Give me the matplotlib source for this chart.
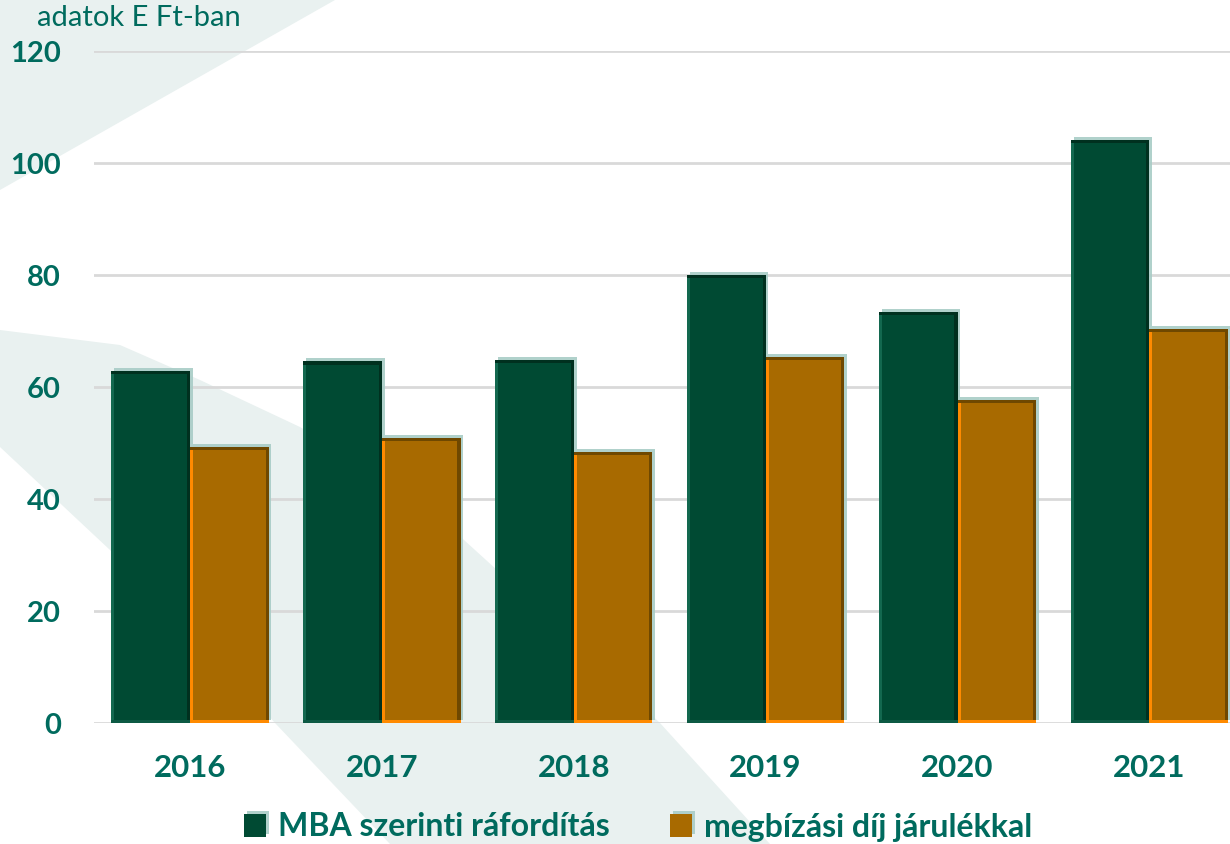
import matplotlib.pyplot as plt
import matplotlib.patheffects as pe
from matplotlib.patches import Rectangle, Polygon
import numpy as np

years = ['2016', '2017', '2018', '2019', '2020', '2021']
mba = [62.9, 64.6, 64.8, 80.0, 73.4, 104.1]
megbizasi = [49.3, 50.9, 48.4, 65.4, 57.7, 70.4]
series_names = ['MBA szerinti ráfordítás', 'megbízási díj járulékkal']
yticks = [0, 20, 40, 60, 80, 100, 120]

txt = '#006b5e'
green = '#004a33'
orange = '#a86a00'

plt.rcParams['font.family'] = ['Lato', 'DejaVu Sans']

fig = plt.figure(figsize=(12.3, 8.44), dpi=100)

# background swoosh (decoration)
bg = fig.add_axes([0, 0, 1, 1], zorder=0)
bg.set_xlim(0, 1230)
bg.set_ylim(844, 0)
bg.axis('off')
band_col = '#e9f1f0'
bg.add_patch(Polygon([(0, 0), (335, 0), (0, 190)], closed=True, color=band_col, lw=0))
upper = [(0, 330), (120, 345), (200, 380), (300, 427), (420, 500), (530, 600), (660, 723), (770, 844)]
lower = [(390, 844), (275, 723), (200, 640), (110, 550), (0, 447)]
bg.add_patch(Polygon(upper + lower, closed=True, color=band_col, lw=0))

ax = fig.add_axes([94 / 1230, 1 - 723 / 844, 1 - 94 / 1230, (723 - 51) / 844], zorder=1)
ax.patch.set_alpha(0)

x = np.arange(len(years))
w = 0.41
shadow = [pe.SimplePatchShadow(offset=(2, 2), shadow_rgbFace='#a8ccc6', alpha=0.9), pe.Normal()]
b1 = ax.bar(x - w / 2, mba, w, color=green, zorder=3, label=series_names[0])
b2 = ax.bar(x + w / 2, megbizasi, w, color=orange, zorder=3, label=series_names[1])
for b in list(b1) + list(b2):
    b.set_path_effects(shadow)

# bevel edges
dx, dy = 0.016, 0.6
bevels = [(b1, '#13684f', '#00301f', '#00301f', '#0d5a44'),
          (b2, '#ff8a00', '#6f4800', '#6f4800', '#ff8a00')]
for bars, left_c, top_c, right_c, bot_c in bevels:
    for b in bars:
        bx, bw, bh = b.get_x(), b.get_width(), b.get_height()
        ax.add_patch(Rectangle((bx, 0), dx, bh, color=left_c, lw=0, zorder=4))
        ax.add_patch(Rectangle((bx + bw - dx, 0), dx, bh, color=right_c, lw=0, zorder=4))
        ax.add_patch(Rectangle((bx, bh - dy), bw, dy, color=top_c, lw=0, zorder=5))
        ax.add_patch(Rectangle((bx, 0), bw, dy, color=bot_c, lw=0, zorder=5))

ax.set_ylim(0, 120)
ax.set_xlim(-0.5, 5.42)
ax.set_yticks(yticks)
ax.set_yticklabels([str(t) for t in yticks])
ax.set_xticks(x)
ax.set_xticklabels(years)
ax.yaxis.grid(True, color='#d9d9d9', lw=2, zorder=0)
ax.set_axisbelow(True)
for s in ax.spines.values():
    s.set_visible(False)
ax.tick_params(axis='y', length=0, pad=24, labelsize=21, labelcolor=txt)
ax.tick_params(axis='x', length=0, pad=22, labelsize=22.5, labelcolor=txt)
for lab in ax.get_xticklabels() + ax.get_yticklabels():
    lab.set_fontweight('bold')

fig.text(37 / 1230, 1 - 18 / 844, 'adatok E Ft-ban', fontsize=21, color=txt, va='center', ha='left')

leg = fig.legend(handles=[b1, b2], labels=series_names, loc='center',
                 bbox_to_anchor=(638 / 1230, 1 - 827 / 844), ncol=2, frameon=False,
                 prop={'size': 23, 'weight': 'bold'}, handlelength=0.7, handleheight=0.7,
                 handletextpad=0.35, columnspacing=1.9)
for t in leg.get_texts():
    t.set_color(txt)

fig.savefig('out.png', dpi=100)
